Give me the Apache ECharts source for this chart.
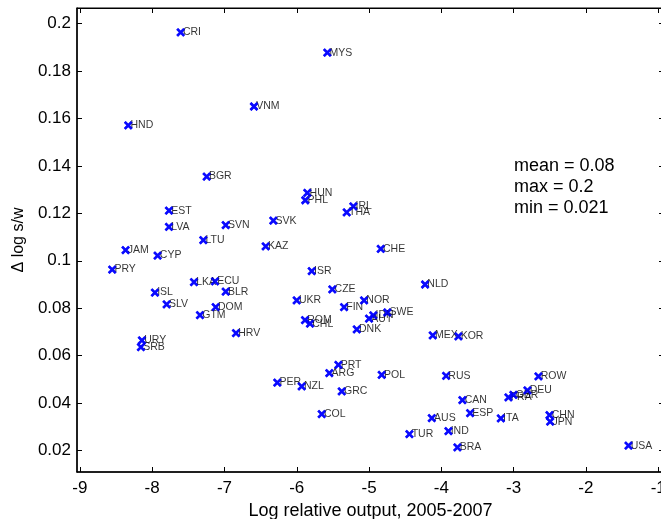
<!DOCTYPE html>
<html>
<head>
<meta charset="utf-8">
<script src="https://cdn.jsdelivr.net/npm/echarts@6/dist/echarts.min.js"></script>
<style>
  html, body { margin: 0; padding: 0; background: #fff; }
  #chart { width: 661px; height: 519px; }
</style>
</head>
<body>
<div id="chart"></div>
<script>
// Country codes, log relative output (2005-2007) and change in log s/w
const countries = ['CRI','MYS','VNM','HND','BGR','HUN','PHL','IRL','THA','EST','LVA','SVN','SVK','LTU','KAZ','CHE','JAM','CYP','PRY','ISR','LKA','ECU','NLD','CZE','BLR','ISL','UKR','NOR','SLV','DOM','FIN','SWE','GTM','IDN','AUT','ROM','CHL','DNK','HRV','MEX','KOR','URY','SRB','PRT','ARG','POL','RUS','ROW','PER','NZL','DEU','GRC','GBR','FRA','CAN','ESP','COL','CHN','AUS','ITA','JPN','IND','TUR','USA','BRA'];
const logOutput = [-7.606,-5.577,-6.592,-8.331,-7.246,-5.854,-5.882,-5.217,-5.309,-7.768,-7.768,-6.983,-6.324,-7.293,-6.430,-4.838,-8.368,-7.925,-8.553,-5.793,-7.422,-7.131,-4.225,-5.508,-6.983,-7.962,-6.001,-5.069,-7.800,-7.122,-5.346,-4.747,-7.339,-4.941,-5.000,-5.886,-5.817,-5.170,-6.841,-4.119,-3.764,-8.142,-8.156,-5.424,-5.550,-4.825,-3.934,-2.657,-6.269,-5.932,-2.809,-5.378,-3.003,-3.072,-3.709,-3.602,-5.655,-2.504,-4.132,-3.177,-2.495,-3.902,-4.442,-1.411,-3.778];
const dLogSW = [0.1962,0.1877,0.1650,0.1570,0.1355,0.1286,0.1255,0.1229,0.1204,0.1211,0.1143,0.1150,0.1169,0.1087,0.1061,0.1050,0.1045,0.1022,0.0963,0.0956,0.0910,0.0913,0.0900,0.0879,0.0870,0.0866,0.0833,0.0833,0.0816,0.0805,0.0805,0.0782,0.0771,0.0770,0.0756,0.0750,0.0735,0.0711,0.0695,0.0686,0.0681,0.0665,0.0636,0.0561,0.0527,0.0519,0.0515,0.0513,0.0487,0.0471,0.0454,0.0450,0.0435,0.0424,0.0413,0.0358,0.0354,0.0350,0.0337,0.0336,0.0322,0.0282,0.0270,0.0221,0.0214];

// Axis ticks and their labels
const xTicks = [-9,-8,-7,-6,-5,-4,-3,-2,-1];
const xTickLabels = ['-9','-8','-7','-6','-5','-4','-3','-2','-1'];
const yTicks = [0.02,0.04,0.06,0.08,0.1,0.12,0.14,0.16,0.18,0.2];
const yTickLabels = ['0.02','0.04','0.06','0.08','0.1','0.12','0.14','0.16','0.18','0.2'];

// Summary statistics, two significant digits
const sig2 = v => String(parseFloat(v.toPrecision(2)));
const meanVal = dLogSW.reduce((a, b) => a + b, 0) / dLogSW.length;
const statsText = 'mean = ' + sig2(meanVal) + '\nmax = ' + sig2(Math.max(...dLogSW)) + '\nmin = ' + sig2(Math.min(...dLogSW));

const points = countries.map((c, i) => ({ name: c, value: [logOutput[i], dLogSW[i]] }));

const FONT = 'Liberation Sans, Arial, sans-serif';
const crossPath = 'path://M0,0L10,10M10,0L0,10';
const markerStyle = { color: 'transparent', borderColor: '#0000ff', borderWidth: 2.5 };

const xRange = { min: -9.04, max: -0.92 };
const yRange = { min: 0.011, max: 0.2065 };

const tickCommon = { inside: true, length: 5, lineStyle: { color: '#000', width: 1 } };

const chart = echarts.init(document.getElementById('chart'), null, { renderer: 'canvas' });
chart.setOption({
  backgroundColor: '#fff',
  animation: false,
  grid: {
    left: 77, top: 8, width: 587, height: 464,
    show: true, borderColor: '#000', borderWidth: 1, backgroundColor: '#fff',
    containLabel: false, outerBoundsMode: 'none'
  },
  xAxis: [
    {
      type: 'value', position: 'bottom', ...xRange,
      axisLine: { show: true, onZero: false, lineStyle: { color: '#000', width: 1.5 } },
      axisTick: { ...tickCommon, customValues: xTicks },
      axisLabel: {
        customValues: xTicks, color: '#000', fontFamily: FONT, fontSize: 17, margin: 8,
        formatter: v => xTickLabels[xTicks.indexOf(+v.toFixed(6))] ?? ''
      },
      splitLine: { show: false },
      name: 'Log relative output, 2005-2007', nameLocation: 'middle', nameGap: 28,
      nameTextStyle: { color: '#000', fontFamily: FONT, fontSize: 18 }
    },
    {
      type: 'value', position: 'top', ...xRange,
      axisLine: { show: true, onZero: false, lineStyle: { color: '#000', width: 1 } },
      axisTick: { ...tickCommon, customValues: xTicks },
      axisLabel: { show: false },
      splitLine: { show: false }
    }
  ],
  yAxis: [
    {
      type: 'value', position: 'left', ...yRange,
      axisLine: { show: true, onZero: false, lineStyle: { color: '#000', width: 1.5 } },
      axisTick: { ...tickCommon, customValues: yTicks },
      axisLabel: {
        customValues: yTicks, color: '#000', fontFamily: FONT, fontSize: 17, margin: 6,
        formatter: v => yTickLabels[yTicks.indexOf(+v.toFixed(6))] ?? ''
      },
      splitLine: { show: false },
      name: '\u0394 log s/w', nameLocation: 'middle', nameGap: 49,
      nameTextStyle: { color: '#000', fontFamily: FONT, fontSize: 16 }
    },
    {
      type: 'value', position: 'right', ...yRange,
      axisLine: { show: true, onZero: false, lineStyle: { color: '#000', width: 1 } },
      axisTick: { ...tickCommon, customValues: yTicks },
      axisLabel: { show: false },
      splitLine: { show: false }
    }
  ],
  series: [
    {
      // markers with country labels
      type: 'scatter', xAxisIndex: 0, yAxisIndex: 0, z: 2,
      symbol: crossPath, symbolSize: 7,
      itemStyle: markerStyle,
      label: {
        show: true, position: 'right', distance: -2.5,
        formatter: p => p.name,
        color: '#000', fontFamily: FONT, fontSize: 10.5
      },
      labelLayout: { hideOverlap: false },
      emphasis: { disabled: true },
      data: points
    },
    {
      // markers redrawn above the label text
      type: 'scatter', xAxisIndex: 0, yAxisIndex: 0, z: 3,
      symbol: crossPath, symbolSize: 7,
      itemStyle: markerStyle,
      emphasis: { disabled: true },
      silent: true,
      data: points
    }
  ],
  graphic: [
    {
      type: 'text', left: 514, top: 156,
      style: { text: statsText, fill: '#000', font: '18px ' + FONT, lineHeight: 21 }
    }
  ]
});
</script>
</body>
</html>
